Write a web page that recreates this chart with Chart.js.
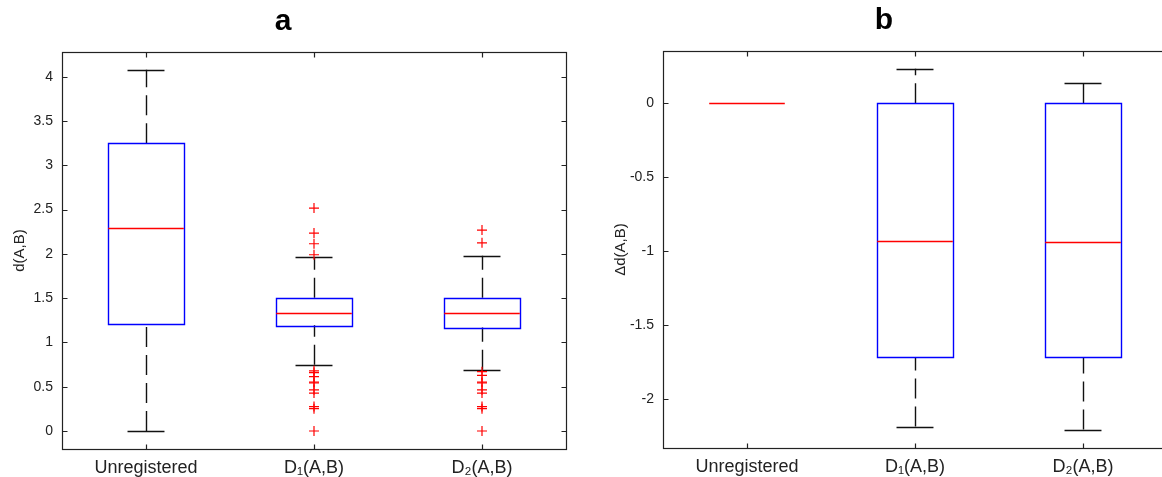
<!DOCTYPE html>
<html lang="en">
<head>
    <meta charset="UTF-8">
    <title>Boxplots a / b</title>
    <script src="https://cdn.jsdelivr.net/npm/chart.js"></script>
    <style>
        body {
            margin: 0;
            background: #fff;
            width: 1162px;
            height: 477px;
            overflow: hidden;
            position: relative;
        }

        .panel {
            position: absolute;
            top: 0;
        }
    </style>
</head>
<body>
    <div class="panel" style="left:0px;"><canvas id="chartA" width="600" height="477"></canvas></div>
    <div class="panel" style="left:601px; top:-1px;"><canvas id="chartB" width="600" height="477"></canvas></div>

    <script>
    // Kategorien (x-Achse)
    const categories = ['Unregistered', 'D\u2081(A,B)', 'D\u2082(A,B)'];

    // Panel a: d(A,B)
    const aLow    = [0.0, 0.748, 0.692];
    const aQ1     = [1.208, 1.193, 1.170];
    const aMedian = [2.295, 1.335, 1.335];
    const aQ3     = [3.250, 1.505, 1.505];
    const aHigh   = [4.080, 1.964, 1.979];
    const aOutliers = [
        [],
        [2.517, 2.235, 2.114, 1.99, 0.68, 0.66, 0.615, 0.552, 0.542, 0.465, 0.428, 0.276, 0.252, 0.0],
        [2.269, 2.125, 0.67, 0.628, 0.552, 0.542, 0.465, 0.428, 0.276, 0.252, 0.0]
    ];
    const aTicks = [0, 0.5, 1, 1.5, 2, 2.5, 3, 3.5, 4];

    // Panel b: Δd(A,B)
    const bLow    = [0, -2.188, -2.208];
    const bQ1     = [0, -1.721, -1.721];
    const bMedian = [0, -0.930, -0.936];
    const bQ3     = [0, 0, 0];
    const bHigh   = [0, 0.234, 0.139];
    const bOutliers = [[], [], []];
    const bTicks = [-2, -1.5, -1, -0.5, 0];

    // gestrichelte Linie, immer von unten nach oben (wie MATLAB)
    function dashed(ctx, x, yFrom, yTo) {
        ctx.beginPath();
        ctx.setLineDash([20, 8]);
        ctx.moveTo(x, yFrom);
        ctx.lineTo(x, yTo);
        ctx.stroke();
        ctx.setLineDash([]);
    }

    // Endstrich eines Whiskers
    function cap(ctx, x1, x2, yy) {
        ctx.beginPath();
        ctx.moveTo(x1, Math.round(yy) + 0.5);
        ctx.lineTo(x2, Math.round(yy) + 0.5);
        ctx.stroke();
    }

    // zeichnet Boxen, Whisker, Mediane sowie Rahmen mit Teilstrichen
    const boxPlugin = {
        id: 'boxes',
        beforeDatasetsDraw(chart, args, opts) {
            const ctx = chart.ctx;
            const x = chart.scales.x;
            const y = chart.scales.y;
            ctx.save();
            ctx.lineWidth = 1.4;
            for (let i = 0; i < opts.median.length; i++) {
                const c = i + 1;
                const xc = Math.round(x.getPixelForValue(c)) + 0.5;
                const bl = x.getPixelForValue(c - 0.225);
                const br = x.getPixelForValue(c + 0.225);
                const cl = x.getPixelForValue(c - 0.11);
                const cr = x.getPixelForValue(c + 0.11);
                const yLow = y.getPixelForValue(opts.low[i]);
                const yQ1 = y.getPixelForValue(opts.q1[i]);
                const yMed = y.getPixelForValue(opts.median[i]);
                const yQ3 = y.getPixelForValue(opts.q3[i]);
                const yHigh = y.getPixelForValue(opts.high[i]);

                // Whisker gestrichelt + Endstriche (nur wenn vorhanden)
                ctx.strokeStyle = '#111';
                if (opts.low[i] !== opts.q1[i]) {
                    dashed(ctx, xc, yLow, yQ1);
                    cap(ctx, cl, cr, yLow);
                }
                if (opts.high[i] !== opts.q3[i]) {
                    dashed(ctx, xc, yQ3, yHigh);
                    cap(ctx, cl, cr, yHigh);
                }

                // Box (nicht bei Höhe null)
                if (opts.q3[i] !== opts.q1[i]) {
                    ctx.strokeStyle = '#0000ff';
                    ctx.beginPath();
                    ctx.rect(Math.round(bl) + 0.5, Math.round(yQ3) + 0.5,
                        Math.round(br - bl), Math.round(yQ1 - yQ3));
                    ctx.stroke();
                }

                // Median
                ctx.strokeStyle = '#ff0000';
                ctx.beginPath();
                ctx.moveTo(bl, Math.round(yMed) + 0.5);
                ctx.lineTo(br, Math.round(yMed) + 0.5);
                ctx.stroke();
            }
            ctx.restore();
        },
        afterDraw(chart) {
            const ctx = chart.ctx;
            const a = chart.chartArea;
            const x = chart.scales.x;
            const y = chart.scales.y;
            const L = Math.round(a.left) + 0.5, R = Math.round(a.right) + 0.5;
            const T = Math.round(a.top) + 0.5, B = Math.round(a.bottom) + 0.5;
            ctx.save();
            ctx.strokeStyle = '#222';
            ctx.lineWidth = 1.2;
            ctx.strokeRect(L, T, R - L, B - T);
            ctx.beginPath();
            y.ticks.forEach(t => {
                const py = Math.round(y.getPixelForValue(t.value)) + 0.5;
                ctx.moveTo(L, py); ctx.lineTo(L + 5, py);
                ctx.moveTo(R, py); ctx.lineTo(R - 5, py);
            });
            x.ticks.forEach(t => {
                const px = Math.round(x.getPixelForValue(t.value)) + 0.5;
                ctx.moveTo(px, B); ctx.lineTo(px, B - 5);
                ctx.moveTo(px, T); ctx.lineTo(px, T + 5);
            });
            ctx.stroke();
            ctx.restore();
        }
    };

    function makeChart(id, title, yTitle, yMin, yMax, yTicks, low, q1, median, q3, high, outliers) {
        // Ausreißer als Punkte
        const points = [];
        outliers.forEach((list, i) => {
            list.forEach(v => points.push({ x: i + 1, y: v }));
        });

        const config = {
            type: 'scatter',
            data: {
                datasets: [{
                    data: points,
                    pointStyle: 'cross',
                    pointRadius: 5,
                    borderColor: '#ff0000',
                    borderWidth: 1.2
                }]
            },
            options: {
                responsive: false,
                animation: false,
                layout: { padding: { left: 0, right: 34, top: 0, bottom: 0 } },
                plugins: {
                    legend: { display: false },
                    tooltip: { enabled: false },
                    title: {
                        display: true,
                        text: title,
                        color: '#000',
                        font: { family: 'Liberation Sans', size: 30, weight: 'bold' },
                        padding: { top: 4, bottom: 12 }
                    },
                    boxes: { low: low, q1: q1, median: median, q3: q3, high: high }
                },
                scales: {
                    x: {
                        type: 'linear',
                        min: 0.5,
                        max: 3.5,
                        grid: { display: false, drawTicks: false },
                        border: { display: false },
                        afterBuildTicks: s => { s.ticks = categories.map((c, i) => ({ value: i + 1 })); },
                        afterFit: s => { s.height = 28; },
                        ticks: {
                            autoSkip: false,
                            maxRotation: 0,
                            padding: 8,
                            color: '#222',
                            font: { family: 'Liberation Sans', size: 18 },
                            callback: (v, i) => categories[i]
                        }
                    },
                    y: {
                        min: yMin,
                        max: yMax,
                        grid: { display: false, drawTicks: false },
                        border: { display: false },
                        afterBuildTicks: s => { s.ticks = yTicks.map(v => ({ value: v })); },
                        afterFit: s => { s.width = 62; },
                        title: {
                            display: true,
                            text: yTitle,
                            color: '#222',
                            font: { family: 'Liberation Sans', size: 15 },
                            padding: { top: 11, bottom: 0 }
                        },
                        ticks: {
                            padding: 9,
                            color: '#222',
                            font: { family: 'Liberation Sans', size: 14 },
                            callback: v => String(v)
                        }
                    }
                }
            },
            plugins: [boxPlugin]
        };

        new Chart(document.getElementById(id).getContext('2d'), config);
    }

    makeChart('chartA', 'a', 'd(A,B)', -0.203, 4.279, aTicks,
        aLow, aQ1, aMedian, aQ3, aHigh, aOutliers);
    makeChart('chartB', 'b', '\u0394d(A,B)', -2.333, 0.354, bTicks,
        bLow, bQ1, bMedian, bQ3, bHigh, bOutliers);
    </script>
</body>
</html>
